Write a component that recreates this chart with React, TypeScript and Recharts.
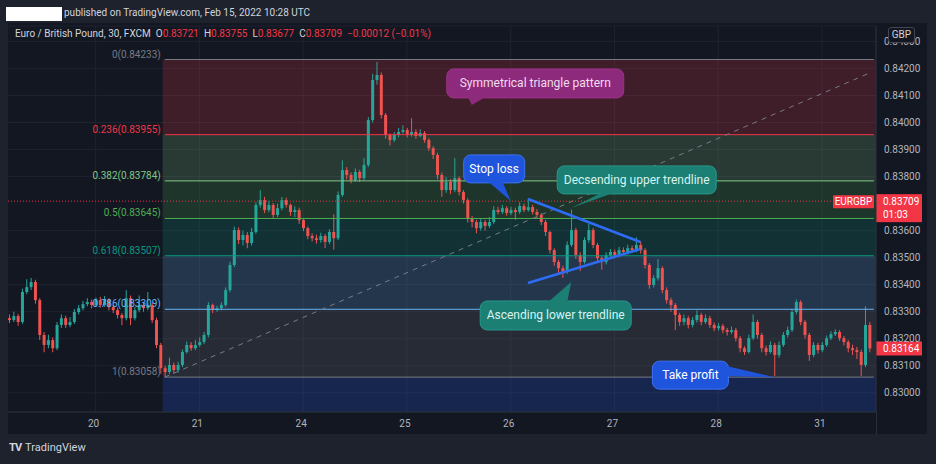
import React from "react";
import {
  Bar,
  CartesianGrid,
  ComposedChart,
  ReferenceArea,
  ReferenceDot,
  ReferenceLine,
  XAxis,
  YAxis,
} from "recharts";

// EUR/GBP 30m chart, 19–31 Jan 2022, read as hourly candles.
// Prices are in points (0.00001) above 0.83000; open = previous close.
const BASE = 0.83;
const firstOpen = 276;

const closePts = [
  269, 284, 262, 373, 391, 410, 343, 214, 177, 195,
  165, 251, 276, 251, 262, 299, 313, 328, 336, 325,
  343, 325, 343, 317, 306, 288, 276, 350, 276, 306,
  325, 313, 325, 269, 177, 91, 77, 103, 84, 103,
  151, 177, 165, 177, 188, 214, 325, 306, 313, 325,
  380, 473, 602, 565, 584, 554, 595, 695, 713, 676,
  695, 658, 683, 713, 695, 669, 676, 639, 609, 580,
  572, 565, 580, 558, 595, 572, 732, 824, 806, 787,
  817, 794, 843, 1009, 1157, 1176, 1028, 954, 935, 954,
  965, 972, 954, 965, 950, 961, 935, 905, 880, 806,
  750, 780, 750, 794, 743, 713, 646, 632, 609, 632,
  617, 632, 676, 669, 683, 665, 676, 669, 691, 676,
  687, 669, 658, 632, 595, 528, 484, 461, 447, 547,
  602, 510, 484, 565, 602, 547, 498, 484, 510, 521,
  510, 528, 521, 535, 528, 547, 528, 473, 399, 424,
  461, 380, 343, 325, 288, 262, 276, 251, 269, 288,
  262, 276, 251, 239, 247, 232, 225, 232, 202, 165,
  151, 202, 262, 214, 165, 151, 177, 140, 177, 214,
  232, 299, 336, 262, 214, 140, 177, 158, 177, 202,
  217, 225, 202, 188, 165, 158, 151, 103, 251, 164,
];

const highPts = [
  290, 300, 292, 385, 420, 425, 418, 350, 225, 215,
  205, 262, 290, 285, 280, 310, 325, 340, 350, 345,
  352, 355, 358, 350, 325, 315, 295, 380, 360, 318,
  360, 335, 373, 332, 278, 185, 100, 130, 112, 115,
  160, 190, 188, 195, 205, 225, 335, 330, 322, 335,
  390, 485, 615, 612, 600, 595, 610, 705, 750, 725,
  710, 702, 700, 725, 722, 700, 690, 685, 645, 615,
  590, 585, 592, 588, 605, 660, 745, 860, 835, 815,
  830, 825, 868, 1020, 1180, 1224, 1185, 1035, 960, 965,
  980, 990, 980, 1016, 975, 975, 968, 942, 912, 888,
  815, 798, 790, 868, 800, 750, 720, 655, 640, 645,
  640, 650, 690, 688, 695, 690, 688, 685, 705, 700,
  718, 695, 680, 665, 640, 600, 535, 492, 470, 560,
  678, 610, 520, 575, 625, 610, 555, 505, 520, 532,
  530, 540, 538, 548, 545, 575, 560, 535, 480, 435,
  495, 468, 390, 352, 332, 296, 290, 285, 280, 305,
  296, 290, 285, 260, 258, 255, 240, 245, 240, 210,
  172, 215, 290, 270, 222, 175, 190, 185, 190, 225,
  245, 310, 345, 342, 270, 222, 188, 185, 188, 212,
  228, 235, 232, 210, 195, 178, 170, 160, 320, 262,
];

const lowPts = [
  258, 262, 248, 255, 365, 380, 330, 195, 150, 165,
  150, 158, 240, 240, 243, 255, 290, 305, 320, 312,
  318, 315, 318, 305, 295, 275, 250, 268, 250, 268,
  298, 300, 305, 258, 165, 70, 58, 70, 70, 75,
  95, 145, 155, 158, 170, 180, 205, 295, 300, 305,
  318, 372, 465, 550, 545, 535, 545, 588, 685, 665,
  668, 645, 650, 675, 685, 655, 650, 625, 598, 568,
  560, 552, 555, 535, 550, 530, 565, 725, 790, 775,
  780, 780, 785, 835, 1000, 1140, 1015, 940, 915, 928,
  945, 958, 945, 948, 940, 945, 925, 895, 865, 790,
  725, 740, 735, 742, 730, 700, 630, 612, 590, 600,
  600, 610, 625, 660, 662, 655, 658, 640, 662, 668,
  670, 660, 645, 620, 580, 515, 470, 440, 425, 440,
  540, 495, 450, 478, 555, 535, 485, 455, 475, 500,
  498, 502, 510, 512, 518, 520, 515, 460, 385, 390,
  415, 368, 330, 300, 232, 248, 250, 238, 242, 260,
  250, 255, 240, 228, 230, 220, 212, 218, 190, 150,
  140, 145, 195, 200, 150, 138, 145, 62, 130, 170,
  205, 225, 290, 250, 200, 118, 132, 145, 150, 170,
  195, 210, 192, 175, 150, 140, 125, 62, 95, 150,
];

const dayTicks = [20, 44, 68, 92, 116, 140, 164, 188];
const dayLabels = ["20", "21", "24", "25", "26", "27", "28", "31"];
const priceTicks = [
  0.83, 0.831, 0.832, 0.833, 0.834, 0.835, 0.836, 0.838, 0.839, 0.84,
  0.841, 0.842, 0.843,
];
const priceDomain = [0.82929, 0.84357];

const fibRatios = ["0", "0.236", "0.382", "0.5", "0.618", "0.786", "1"];
const fibPrices = [0.84233, 0.83955, 0.83784, 0.83645, 0.83507, 0.83309, 0.83058];
const fibColors = ["#787b86", "#f23645", "#81c784", "#4caf50", "#089981", "#64b5f6", "#787b86"];
const fibBelowColor = "#2962ff";
const fibStart = 36;
const fibEnd = 200;
const fibTrendEnd = { i: 199, price: 0.84183 };

const upperTrend = [
  { i: 120, price: 0.83717 },
  { i: 146, price: 0.83558 },
];
const lowerTrend = [
  { i: 120, price: 0.83406 },
  { i: 146, price: 0.83532 },
];

const symbolPrice = 0.83709;
const lastClose = 0.83164;

const UP = "#26a69a";
const DOWN = "#ef5350";
const FONT = "Roboto, 'Liberation Sans', sans-serif";

const candles = closePts.map((c, i) => {
  const o = i === 0 ? firstOpen : closePts[i - 1];
  const low = BASE + lowPts[i] / 1e5;
  const high = BASE + highPts[i] / 1e5;
  return {
    i,
    open: BASE + o / 1e5,
    close: BASE + c / 1e5,
    high,
    low,
    range: [low, high],
  };
});
// empty slot after the last bar, like the chart's right edge
const chartData: any[] = [...candles, { i: candles.length }];

function Candle(props: any) {
  const { x, y, width, height, payload } = props;
  if (!payload || payload.high == null) return null;
  const top = Math.min(y, y + height);
  const bot = Math.max(y, y + height);
  const k = (bot - top) / (payload.high - payload.low || 1e-9);
  const yo = top + (payload.high - payload.open) * k;
  const yc = top + (payload.high - payload.close) * k;
  const col = payload.close >= payload.open ? UP : DOWN;
  const cx = x + width / 2;
  return (
    <g>
      <line x1={cx} x2={cx} y1={top} y2={bot} stroke={col} strokeWidth={1} />
      <rect
        x={cx - 1.5}
        y={Math.min(yo, yc)}
        width={3}
        height={Math.max(1, Math.abs(yc - yo))}
        fill={col}
      />
    </g>
  );
}

function FibLabel({ viewBox, text, color }: any) {
  if (!viewBox) return null;
  return (
    <text
      x={viewBox.x - 4}
      y={viewBox.y - 2}
      textAnchor="end"
      fill={color}
      fontSize={10}
      fontFamily={FONT}
    >
      {text}
    </text>
  );
}

function SymbolTag({ viewBox }: any) {
  if (!viewBox) return null;
  const right = viewBox.x + viewBox.width;
  const y = viewBox.y;
  return (
    <g fontFamily={FONT} fontSize={10} fill="#ffffff">
      <rect x={right - 43} y={y - 6} width={41} height={13} rx={1} fill="#f23645" />
      <text x={right - 22.5} y={y + 4} textAnchor="middle" fill="#fff">
        EURGBP
      </text>
      <rect x={right} y={y - 7} width={46} height={28} fill="#f23645" />
      <text x={right + 7} y={y + 4} fill="#fff">
        {symbolPrice.toFixed(5)}
      </text>
      <text x={right + 7} y={y + 17} fill="#fff">
        01:03
      </text>
    </g>
  );
}

function LastTag({ viewBox }: any) {
  if (!viewBox) return null;
  const right = viewBox.x + viewBox.width;
  const y = viewBox.y;
  return (
    <g fontFamily={FONT} fontSize={10}>
      <rect x={right} y={y - 7} width={46} height={14} fill="#f23645" />
      <text x={right + 7} y={y + 4} fill="#fff">
        {lastClose.toFixed(5)}
      </text>
    </g>
  );
}

interface CalloutSpec {
  text: string;
  fill: string;
  stroke: string;
  color: string;
  box: [number, number, number, number];
  tail: [number, number, number, number];
}

const callouts: { i: number; price: number; spec: CalloutSpec }[] = [
  {
    i: 107,
    price: 0.84065,
    spec: {
      text: "Symmetrical triangle pattern",
      fill: "#8e2a7c",
      stroke: "#9c3389",
      color: "#f1dbee",
      box: [-25, -36, 152, -7],
      tail: [-4, -8, 14, -8],
    },
  },
  {
    i: 116,
    price: 0.8371,
    spec: {
      text: "Stop loss",
      fill: "#1f55dd",
      stroke: "#3d72f0",
      color: "#ffffff",
      box: [-47, -46, 14, -18],
      tail: [-22, -19, -8, -19],
    },
  },
  {
    i: 130,
    price: 0.83684,
    spec: {
      text: "Decsending upper trendline",
      fill: "#1b7f74",
      stroke: "#27988a",
      color: "#d9f3ee",
      box: [-14, -42, 145, -14],
      tail: [30, -15, 42, -15],
    },
  },
  {
    i: 130,
    price: 0.8341,
    spec: {
      text: "Ascending lower trendline",
      fill: "#1b7f74",
      stroke: "#27988a",
      color: "#d9f3ee",
      box: [-91, 19, 60, 48],
      tail: [-23, 20, -4, 20],
    },
  },
  {
    i: 177,
    price: 0.83058,
    spec: {
      text: "Take profit",
      fill: "#1f55dd",
      stroke: "#3d72f0",
      color: "#ffffff",
      box: [-122, -16, -46, 12],
      tail: [-47, -11, -47, -1],
    },
  },
];

function Callout({ cx, cy, spec }: { cx: number; cy: number; spec: CalloutSpec }) {
  const [x1, y1, x2, y2] = spec.box;
  const [ax, ay, bx, by] = spec.tail;
  return (
    <g>
      <rect
        x={cx + x1}
        y={cy + y1}
        width={x2 - x1}
        height={y2 - y1}
        rx={7}
        fill={spec.fill}
        stroke={spec.stroke}
        strokeWidth={1}
      />
      <polygon
        points={`${cx + ax},${cy + ay} ${cx},${cy} ${cx + bx},${cy + by}`}
        fill={spec.fill}
      />
      <text
        x={cx + (x1 + x2) / 2}
        y={cy + (y1 + y2) / 2 + 4}
        textAnchor="middle"
        fill={spec.color}
        fontSize={12}
        fontFamily={FONT}
      >
        {spec.text}
      </text>
    </g>
  );
}

const fibBands = fibPrices.slice(1).map((p, k) => ({
  y1: p,
  y2: fibPrices[k],
  color: fibColors[k + 1],
}));

const red = { color: "#f23645" };

export default function App() {
  return (
    <div
      style={{
        position: "relative",
        width: 936,
        height: 464,
        background: "#1e222d",
        fontFamily: FONT,
        overflow: "hidden",
      }}
    >
      <style>{"body{margin:0}"}</style>
      <div
        style={{
          position: "absolute",
          left: 8,
          top: 23,
          width: 919,
          height: 411,
          background: "#131722",
        }}
      />
      <div
        style={{ position: "absolute", left: 6, top: 7, width: 56, height: 14, background: "#fff" }}
      />
      <div
        style={{
          position: "absolute",
          left: 64,
          top: 7,
          fontSize: 10,
          color: "#d1d4dc",
          whiteSpace: "nowrap",
        }}
      >
        published on TradingView.com, Feb 15, 2022 10:28 UTC
      </div>
      <div style={{ position: "absolute", left: 0, top: 0 }}>
        <ComposedChart
          width={936}
          height={464}
          data={chartData}
          margin={{ top: 26, right: 9, bottom: 30, left: 7 }}
        >
          <CartesianGrid stroke="#1f2330" strokeWidth={1} />
          <XAxis
            dataKey="i"
            type="category"
            ticks={dayTicks}
            interval={0}
            tickFormatter={(v) => dayLabels[dayTicks.indexOf(Number(v))] ?? ""}
            tickLine={false}
            axisLine={{ stroke: "#2a2e39" }}
            tick={{ fill: "#b2b5be", fontSize: 10, dx: -2, fontFamily: FONT }}
            height={22}
          />
          <YAxis
            orientation="right"
            type="number"
            domain={priceDomain}
            allowDataOverflow
            ticks={priceTicks}
            interval={0}
            width={51}
            tickLine={false}
            axisLine={{ stroke: "#2a2e39" }}
            tick={{ fill: "#b2b5be", fontSize: 10, fontFamily: FONT }}
            tickFormatter={(v) => Number(v).toFixed(5)}
          />

          {fibBands.map((b) => (
            <ReferenceArea
              key={b.y1}
              x1={fibStart}
              x2={fibEnd}
              y1={b.y1}
              y2={b.y2}
              fill={b.color}
              fillOpacity={0.2}
              stroke="none"
              ifOverflow="visible"
            />
          ))}
          <ReferenceArea
            x1={fibStart}
            x2={fibEnd}
            y1={priceDomain[0]}
            y2={fibPrices[6]}
            fill={fibBelowColor}
            fillOpacity={0.2}
            stroke="none"
            ifOverflow="visible"
          />

          <Bar dataKey="range" barSize={3} shape={Candle} isAnimationActive={false} />

          {fibPrices.map((p, k) => (
            <ReferenceLine
              key={p}
              segment={[
                { x: fibStart, y: p },
                { x: fibEnd, y: p },
              ]}
              stroke={fibColors[k]}
              strokeWidth={1}
              label={(props: any) => (
                <FibLabel
                  viewBox={props.viewBox}
                  color={fibColors[k]}
                  text={`${fibRatios[k]}(${p.toFixed(5)})`}
                />
              )}
            />
          ))}
          <ReferenceLine
            segment={[
              { x: fibStart, y: fibPrices[6] },
              { x: fibTrendEnd.i, y: fibTrendEnd.price },
            ]}
            stroke="#787b86"
            strokeDasharray="5 5"
            strokeWidth={1}
          />

          <ReferenceLine
            y={symbolPrice}
            stroke="#f23645"
            strokeDasharray="1 2"
            strokeWidth={1}
            label={(props: any) => <SymbolTag viewBox={props.viewBox} />}
          />
          <ReferenceLine
            y={lastClose}
            stroke="none"
            label={(props: any) => <LastTag viewBox={props.viewBox} />}
          />

          <ReferenceLine
            segment={upperTrend.map((p) => ({ x: p.i, y: p.price }))}
            stroke="#2f6cf6"
            strokeWidth={2.5}
          />
          <ReferenceLine
            segment={lowerTrend.map((p) => ({ x: p.i, y: p.price }))}
            stroke="#2f6cf6"
            strokeWidth={2.5}
          />

          {callouts.map((c) => (
            <ReferenceDot
              key={c.spec.text}
              x={c.i}
              y={c.price}
              r={0}
              ifOverflow="visible"
              shape={(p: any) => <Callout cx={p.cx} cy={p.cy} spec={c.spec} />}
            />
          ))}
        </ComposedChart>
      </div>
      <div
        style={{
          position: "absolute",
          left: 15,
          top: 28,
          fontSize: 10,
          color: "#d1d4dc",
          whiteSpace: "nowrap",
        }}
      >
        Euro / British Pound, 30, FXCM&nbsp;&nbsp;O<span style={red}>0.83721</span>&nbsp;&nbsp;H
        <span style={red}>0.83755</span>&nbsp;&nbsp;L<span style={red}>0.83677</span>&nbsp;&nbsp;C
        <span style={red}>0.83709</span>&nbsp;&nbsp;<span style={red}>−0.00012 (−0.01%)</span>
      </div>
      <div
        style={{
          position: "absolute",
          left: 888,
          top: 27,
          width: 25,
          height: 14,
          border: "1px solid #434651",
          borderRadius: 3,
          background: "#131722",
          color: "#d1d4dc",
          fontSize: 10,
          lineHeight: "14px",
          textAlign: "center",
        }}
      >
        GBP
      </div>
      <div
        style={{ position: "absolute", left: 876, top: 412, width: 1, height: 22, background: "#2a2e39" }}
      />
      <div
        style={{
          position: "absolute",
          left: 9,
          top: 441,
          fontSize: 11,
          color: "#d1d4dc",
          whiteSpace: "nowrap",
        }}
      >
        <b style={{ letterSpacing: -1, marginRight: 4 }}>TV</b>TradingView
      </div>
    </div>
  );
}
